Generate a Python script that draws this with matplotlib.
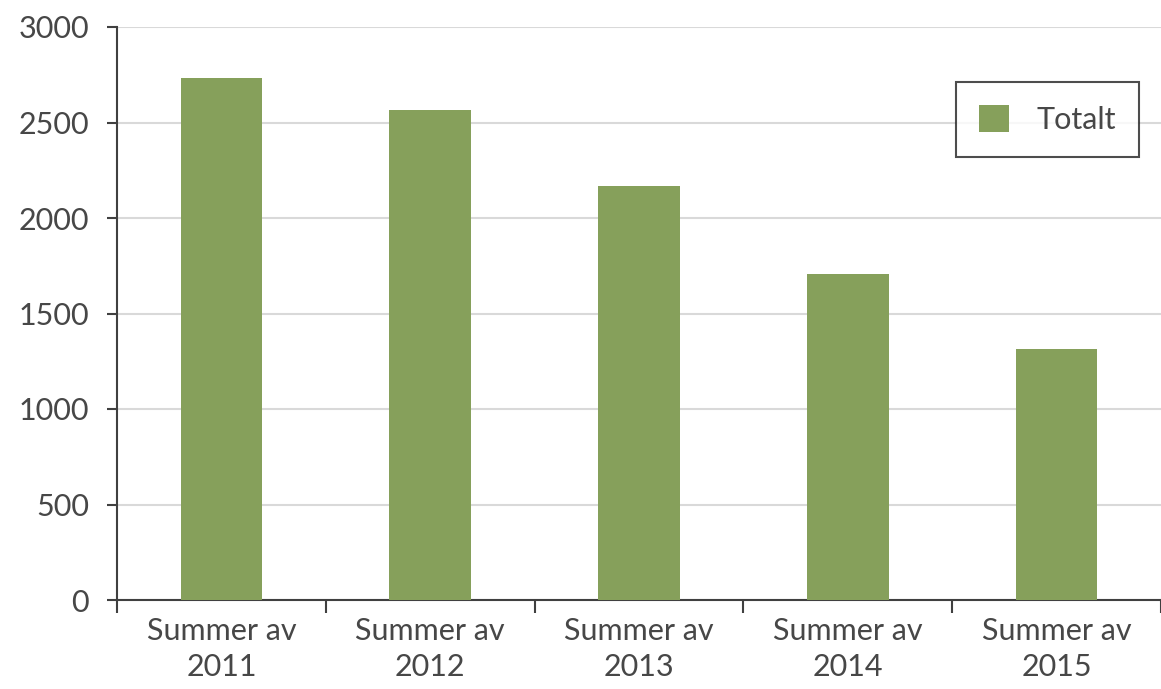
import matplotlib.pyplot as plt
import numpy as np

# Dati
kategorier = ["Summer av\n2011", "Summer av\n2012", "Summer av\n2013", "Summer av\n2014", "Summer av\n2015"]
totalt = [2735, 2565, 2165, 1708, 1315]
y_ticks = [0, 500, 1000, 1500, 2000, 2500, 3000]

plt.rcParams['font.family'] = ['Lato', 'DejaVu Sans']

fig = plt.figure(figsize=(11.61, 6.89), dpi=100)
ax = fig.add_axes([117 / 1161, 89 / 689, 1044 / 1161, 573 / 689])

x = np.arange(len(kategorier))
ax.bar(x, totalt, width=0.39, color='#86a05b', label='Totalt', zorder=3)

ax.set_xlim(-0.5, len(kategorier) - 0.5)
ax.set_ylim(0, 3000)
ax.set_yticks(y_ticks)
ax.set_yticklabels([str(v) for v in y_ticks], fontsize=22, color='#474747')
ax.yaxis.grid(True, color='#d9d9d9', linewidth=1.5, zorder=0)

# Tacche dell'asse x ai confini tra le categorie, etichette al centro
ax.set_xticks(np.arange(len(kategorier) + 1) - 0.5)
ax.set_xticklabels([])
ax.set_xticks(x, minor=True)
ax.set_xticklabels(kategorier, minor=True, fontsize=22, color='#474747', linespacing=1.35)
ax.tick_params(axis='x', which='major', direction='out', length=9, width=1.5, color='#404040')
ax.tick_params(axis='x', which='minor', length=0, pad=12)
ax.tick_params(axis='y', direction='out', length=7, width=1.5, color='#404040', pad=13)

for side in ['top', 'right']:
    ax.spines[side].set_visible(False)
for side in ['left', 'bottom']:
    ax.spines[side].set_color('#404040')
    ax.spines[side].set_linewidth(1.5)

leg = ax.legend(loc='upper right', bbox_to_anchor=(1022 / 1044, 518 / 573),
                fontsize=22, frameon=True, fancybox=False, handlelength=1.0,
                handleheight=1.0, borderpad=0.75, handletextpad=0.9,
                borderaxespad=0)
leg.get_frame().set_edgecolor('#202020')
leg.get_frame().set_linewidth(1.5)
for t in leg.get_texts():
    t.set_color('#474747')

fig.savefig('out.png', dpi=100)
plt.close(fig)
